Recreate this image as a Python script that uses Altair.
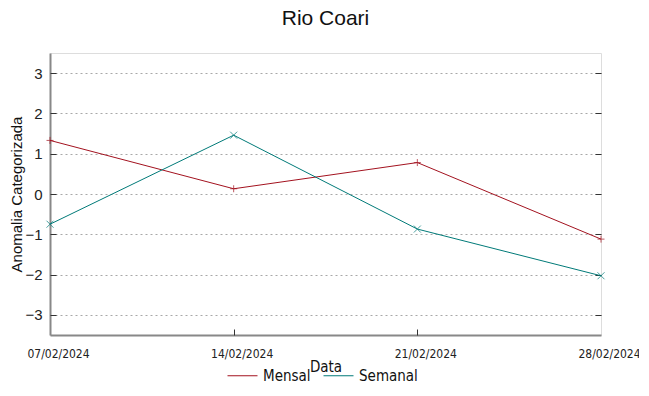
import altair as alt
import pandas as pd

dates = ["2024-02-07", "2024-02-14", "2024-02-21", "2024-02-28"]
mensal = [1.33, 0.13, 0.78, -1.12]
semanal = [-0.75, 1.46, -0.87, -2.03]
series = ["Mensal", "Semanal"]
colors = ["#a3121f", "#007a78"]
y_ticks = [-3, -2, -1, 0, 1, 2, 3]

df = pd.DataFrame({
    "Data": dates * 2,
    "valor": mensal + semanal,
    "serie": ["Mensal"] * len(dates) + ["Semanal"] * len(dates),
})

tick_dates = [alt.DateTime(year=2024, month=2, date=int(d[-2:]), utc=True) for d in dates]
inner_dates = tick_dates[1:3]

xscale = alt.Scale(type="utc", domain=[tick_dates[0], tick_dates[-1]])
yscale = alt.Scale(domain=[-3.5, 3.5], nice=False, zero=False)
cscale = alt.Scale(domain=series, range=colors)

NARROW = "'Liberation Sans Narrow', 'DejaVu Sans Condensed', 'Liberation Sans', sans-serif"
SANS = "Liberation Sans"

base = alt.Chart(df)

legend = alt.Legend(title=None, orient="none", legendX=177, legendY=307, direction="horizontal",
                    symbolType="stroke", symbolSize=900, symbolStrokeWidth=1,
                    labelFont=NARROW, labelFontSize=15, labelColor="#111",
                    columnPadding=10, labelOffset=5)

lines = base.mark_line(strokeWidth=1).encode(
    x=alt.X("Data:T", scale=xscale, title="Data",
            axis=alt.Axis(values=tick_dates, format="%d/%m/%Y", tickSize=0,
                          labelPadding=13, labelOffset=8, labelFont=NARROW, labelFontSize=12,
                          labelColor="#222", titleFont=NARROW, titleFontSize=15,
                          titleFontWeight="normal", titleColor="#111", titlePadding=0,
                          domainColor="#888", domainWidth=2, grid=False, labelFlush=False)),
    y=alt.Y("valor:Q", scale=yscale, title="Anomalia Categorizada",
            axis=alt.Axis(values=y_ticks, tickSize=0, labelPadding=8, labelFont=SANS,
                          labelFontSize=15, labelColor="#222", titleFont=SANS,
                          titleFontSize=15, titleFontWeight="normal", titleColor="#111",
                          titleX=-26, titleY=141, domainColor="#888", domainWidth=2,
                          grid=True, gridDash=[2, 3], gridColor="#a8a8a8", gridWidth=1)),
    color=alt.Color("serie:N", scale=cscale, legend=legend),
)

plus_path = "M -1 0 L 1 0 M 0 -1 L 0 1"
x_path = "M -1 -1 L 1 1 M -1 1 L 1 -1"

pts_m = base.transform_filter(alt.datum.serie == "Mensal").mark_point(
    shape=plus_path, size=49, filled=False, strokeWidth=1, color=colors[0]).encode(
    x=alt.X("Data:T", scale=xscale,
            axis=alt.Axis(orient="bottom", offset=-6, values=inner_dates, tickSize=6,
                          tickColor="#333", labels=False, domain=False, grid=False, title=None)),
    y=alt.Y("valor:Q", scale=yscale,
            axis=alt.Axis(orient="right", offset=-6, values=y_ticks, tickSize=6,
                          tickColor="#333", labels=False, domain=False, grid=False, title=None)),
)

pts_s = base.transform_filter(alt.datum.serie == "Semanal").mark_point(
    shape=x_path, size=49, filled=False, strokeWidth=1, color=colors[1]).encode(
    x=alt.X("Data:T", scale=xscale, axis=None),
    y=alt.Y("valor:Q", scale=yscale,
            axis=alt.Axis(orient="left", offset=-6, values=y_ticks, tickSize=6,
                          tickColor="#333", labels=False, domain=False, grid=False, title=None)),
)

chart = alt.layer(lines, pts_m, pts_s).resolve_axis(
    x="independent", y="independent"
).properties(
    width=551, height=282,
    title=alt.Title("Rio Coari", font=SANS, fontSize=21, fontWeight="normal", color="#111",
                    anchor="middle", offset=24),
    autosize=alt.AutoSizeParams(type="none"),
    padding={"left": 42, "top": 45, "right": 38, "bottom": 52},
).configure_view(stroke="#555", strokeWidth=1).configure(background="white")

chart.save("out.html", embed_options={"renderer": "svg", "actions": False})
